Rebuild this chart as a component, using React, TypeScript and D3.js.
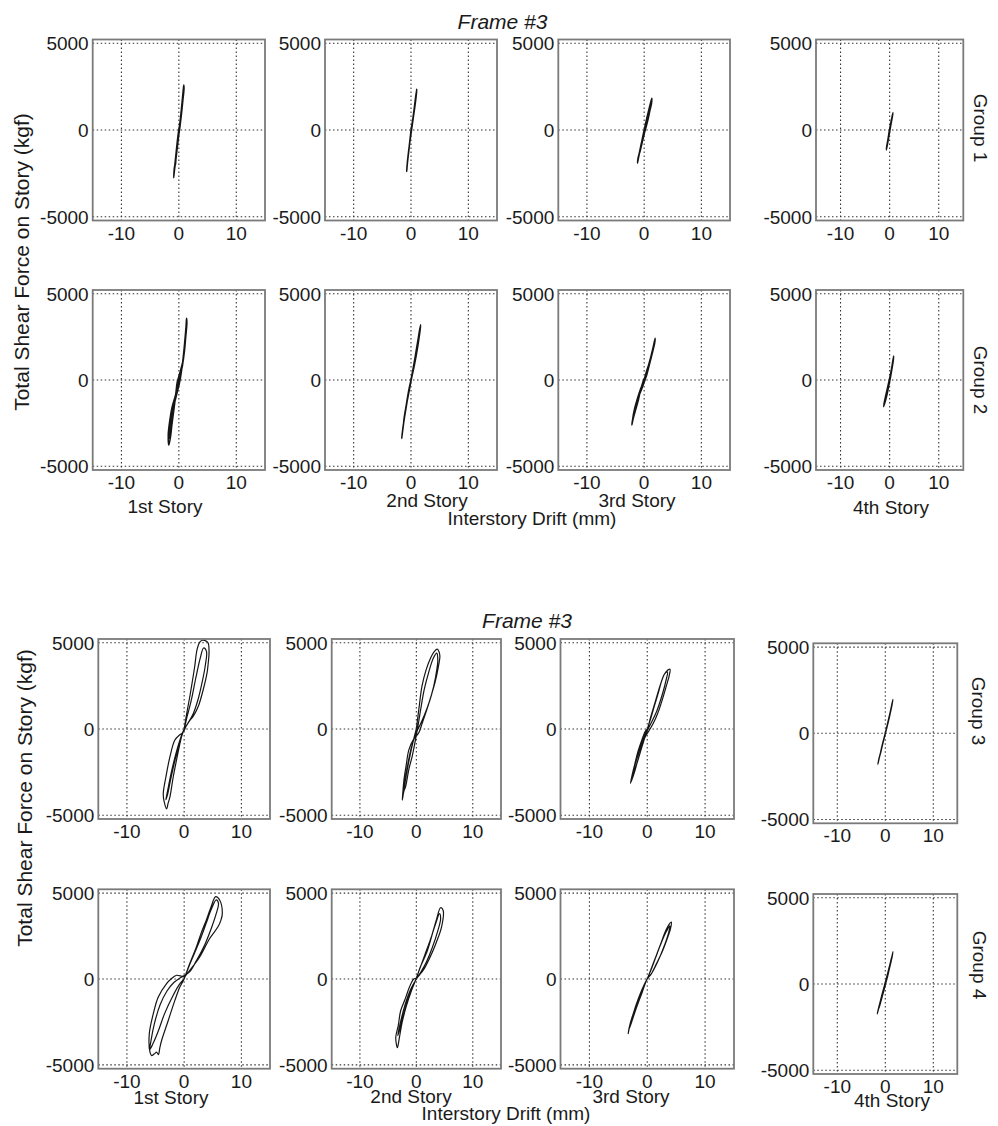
import React from "react";
import * as d3 from "d3";

// ---------- data ----------
const xTicks = [-10, 0, 10];
const yTicks = [-5000, 0, 5000];
const xDomain = [-15, 15];
const yDomain = [-5220, 5220];
const titleText = "Frame #3";
const yLabelText = "Total Shear Force on Story (kgf)";
const xLabelText = "Interstory Drift (mm)";
const storyLabels = ["1st Story", "2nd Story", "3rd Story", "4th Story"];
const groupLabels = ["Group 1", "Group 2", "Group 3", "Group 4"];

type Pt = [number, number];

const g1s1: Pt[] = [[0,0],[0.3,700],[0.55,1500],[0.75,2200],[0.85,2600],[0.9,2400],[0.7,1700],[0.45,900],[0.2,200],[-0.05,-400],[-0.3,-1100],[-0.55,-1800],[-0.75,-2300],[-0.9,-2750],[-0.85,-2450],[-0.75,-2100],[-0.6,-2000],[-0.45,-1300],[-0.25,-600],[0,0],[0.25,600],[0.5,1400],[0.7,2100],[0.8,2450],[0.75,2200],[0.55,1400],[0.3,600],[0.05,-100],[-0.2,-800],[-0.45,-1500],[-0.65,-2050],[-0.8,-2300],[-0.6,-1700],[-0.35,-900],[-0.1,-200],[0,0]];
const g1s2: Pt[] = [[0,0],[0.3,600],[0.6,1300],[0.85,1900],[1.0,2350],[0.95,2100],[0.7,1400],[0.4,700],[0.1,0],[-0.2,-700],[-0.45,-1400],[-0.65,-2000],[-0.75,-2400],[-0.7,-2100],[-0.5,-1500],[-0.25,-800],[0,-100],[0.3,600],[0.6,1350],[0.8,1900],[0.9,2150],[0.75,1700],[0.45,900],[0.15,150],[-0.15,-550],[-0.45,-1300],[-0.65,-1900],[-0.55,-1600],[-0.3,-900],[0,0]];
const g1s3: Pt[] = [[0,0],[0.4,600],[0.8,1150],[1.1,1550],[1.34,1830],[1.3,1550],[1.0,1100],[0.6,500],[0.2,0],[-0.2,-450],[-0.6,-1000],[-0.95,-1550],[-1.17,-1920],[-1.05,-1600],[-0.7,-1150],[-0.35,-600],[0,-50],[0.4,550],[0.8,1050],[1.15,1500],[1.25,1650],[1.0,1200],[0.55,550],[0.15,-50],[-0.25,-600],[-0.65,-1150],[-0.95,-1500],[-0.8,-1250],[-0.45,-700],[0,0]];
const g1s4: Pt[] = [[0,0],[0.2,350],[0.45,700],[0.67,1000],[0.6,850],[0.35,450],[0.1,50],[-0.15,-350],[-0.4,-750],[-0.67,-1150],[-0.6,-950],[-0.35,-550],[-0.1,-100],[0.15,300],[0.4,650],[0.55,850],[0.4,550],[0.1,100],[-0.2,-400],[-0.45,-800],[-0.55,-950],[-0.3,-450],[0,0]];

const g2s1: Pt[] = [[0,0],[0.3,500],[0.6,770],[0.8,1400],[1.05,2300],[1.25,3100],[1.34,3580],[1.4,3300],[1.2,2500],[0.95,1600],[0.6,800],[0.2,200],[-0.2,-300],[-0.6,-900],[-1.2,-1600],[-1.6,-2400],[-1.85,-3200],[-1.74,-3780],[-1.45,-3300],[-1.15,-2400],[-0.85,-1500],[-0.5,-700],[-0.3,-150],[0,200],[0.4,700],[0.7,1100],[1.0,2000],[1.2,2800],[1.3,3300],[1.15,2700],[0.85,1600],[0.5,600],[0.1,-200],[-0.5,-1000],[-1.1,-1800],[-1.5,-2700],[-1.7,-3400],[-1.4,-3000],[-1.05,-2200],[-0.7,-1300],[-0.35,-500],[0,0]];
const g2s2: Pt[] = [[0,0],[0.4,700],[0.8,1500],[1.2,2300],[1.5,2900],[1.69,3200],[1.6,2900],[1.3,2200],[0.9,1400],[0.5,700],[0.1,100],[-0.3,-600],[-0.7,-1300],[-1.1,-2100],[-1.4,-2800],[-1.62,-3390],[-1.5,-3000],[-1.25,-2400],[-0.9,-1700],[-0.5,-900],[-0.1,-150],[0.3,550],[0.7,1300],[1.1,2100],[1.4,2700],[1.55,3000],[1.35,2500],[1.0,1800],[0.6,1000],[0.2,300],[-0.2,-400],[-0.6,-1100],[-1.0,-1900],[-1.3,-2500],[-1.2,-2200],[-0.8,-1400],[-0.4,-600],[0,0]];
const g2s3: Pt[] = [[0,0],[0.4,500],[0.8,900],[1.2,1400],[1.6,1950],[1.92,2420],[1.85,2150],[1.5,1650],[1.0,1000],[0.5,350],[0.1,-50],[-0.4,-500],[-1.0,-1000],[-1.5,-1500],[-1.95,-2150],[-2.15,-2615],[-1.95,-2300],[-1.5,-1750],[-1.0,-1150],[-0.6,-550],[-0.2,-100],[0.3,300],[0.8,800],[1.3,1450],[1.7,2000],[1.8,2150],[1.5,1750],[1.0,1150],[0.5,550],[0,0],[-0.6,-500],[-1.2,-1100],[-1.7,-1700],[-2.0,-2250],[-1.7,-1900],[-1.2,-1200],[-0.6,-500],[0,0]];
const g2s4: Pt[] = [[0,0],[0.25,400],[0.5,850],[0.81,1395],[0.75,1150],[0.5,700],[0.2,200],[-0.15,-300],[-0.5,-800],[-0.9,-1250],[-1.22,-1550],[-1.1,-1300],[-0.8,-900],[-0.4,-400],[0,100],[0.35,600],[0.65,1100],[0.7,1200],[0.45,750],[0.1,150],[-0.3,-500],[-0.7,-1000],[-1.0,-1350],[-0.7,-850],[-0.3,-300],[0,0]];

const g3s1: Pt[] = [[0,0],[0.5,1000],[1.0,1900],[1.5,2900],[1.85,3640],[2.26,4613],[2.73,5042],[3.2,5150],[3.6,5139],[4.17,5003],[4.35,4419],[4.2,3800],[4.0,3250],[3.33,2278],[2.46,1304],[1.6,750],[1.0,500],[0.4,200],[-0.2,-200],[-0.8,-350],[-1.62,-642],[-2.49,-1616],[-3.19,-2784],[-3.65,-3757],[-3.5,-4200],[-3.07,-4633],[-2.8,-4300],[-2.49,-3952],[-1.91,-2784],[-1.22,-1616],[-0.46,-448],[0,0],[0.5,700],[1.2,1600],[2.0,2900],[2.8,4100],[3.4,4700],[3.9,4500],[3.7,3700],[3.2,2800],[2.5,1800],[1.6,900],[0.6,300],[0,0],[-0.7,-600],[-1.5,-1500],[-2.3,-2600],[-2.9,-3600],[-3.2,-4100],[-2.9,-3800],[-2.4,-3000],[-1.6,-1800],[-0.8,-800],[0,0]];
const g3s2: Pt[] = [[0,0],[0.5,1300],[1.0,2488],[1.7,3400],[2.43,4047],[3.2,4500],[3.71,4631],[4.0,4500],[4.17,4240],[3.9,3600],[3.3,2686],[2.6,1900],[1.86,1127],[1.0,300],[0.41,-234],[-0.5,-600],[-1.33,-1209],[-1.8,-2100],[-2.2,-2961],[-2.4,-3700],[-2.49,-4129],[-2.2,-3600],[-1.91,-3350],[-1.3,-2300],[-0.75,-1600],[-0.2,-700],[0.2,0],[0.8,1200],[1.4,2300],[2.2,3300],[3.0,4100],[3.6,4400],[3.8,4000],[3.4,3000],[2.7,2000],[1.9,1200],[0.9,400],[0,-200],[-0.9,-1100],[-1.6,-2200],[-2.1,-3200],[-2.3,-3700],[-2.0,-3100],[-1.4,-2000],[-0.7,-900],[0,0]];
const g3s3: Pt[] = [[0,0],[0.5,500],[1.2,1300],[2.0,2200],[2.6,2900],[3.2,3300],[3.93,3463],[3.8,3100],[3.3,2500],[2.6,1700],[1.8,900],[1.0,300],[0.3,-100],[-0.4,-500],[-1.0,-1100],[-1.7,-1900],[-2.3,-2600],[-2.9,-3154],[-2.7,-2800],[-2.2,-2100],[-1.6,-1300],[-0.9,-600],[-0.3,-100],[0,0],[0.6,700],[1.4,1600],[2.3,2600],[3.0,3200],[3.5,3300],[3.3,2900],[2.6,2000],[1.6,1000],[0.6,300],[0,-100],[-0.8,-900],[-1.6,-1800],[-2.3,-2500],[-2.6,-2800],[-2.3,-2300],[-1.5,-1400],[-0.7,-600],[0,0]];
const g3s4: Pt[] = [[0,0],[0.4,500],[0.9,1100],[1.3,1600],[1.58,1972],[1.45,1700],[1.0,1100],[0.5,500],[0,-50],[-0.5,-600],[-1.0,-1150],[-1.3,-1500],[-1.54,-1798],[-1.4,-1550],[-0.9,-1000],[-0.4,-400],[0.1,150],[0.6,750],[1.1,1350],[1.4,1750],[1.2,1450],[0.7,800],[0.2,200],[-0.3,-350],[-0.8,-950],[-1.2,-1400],[-1.0,-1100],[-0.5,-500],[0,0]];

const g4s1: Pt[] = [[0,0],[0.98,899],[2.14,1869],[3.0,2700],[3.87,3428],[4.6,4100],[5.51,4789],[6.2,4596],[6.67,3819],[6.4,3400],[5.91,3037],[4.46,2359],[2.72,1285],[0.98,508],[0,150],[-1.33,216],[-2.3,0],[-3.07,-270],[-4.52,-1051],[-5.39,-2021],[-6.09,-3190],[-5.97,-4261],[-5.68,-4455],[-5.2,-4350],[-4.81,-4261],[-4.5,-4400],[-4.23,-3971],[-3.94,-3580],[-2.78,-2412],[-1.62,-1245],[-0.75,-467],[0,0],[0.8,700],[1.8,1500],[2.8,2300],[3.8,3200],[4.8,4100],[5.6,4600],[6.0,4400],[5.6,3800],[4.8,3000],[3.6,2000],[2.2,1100],[0.9,400],[-0.5,100],[-1.8,-200],[-3.0,-700],[-4.2,-1500],[-5.2,-2600],[-5.8,-3600],[-6.0,-4100],[-5.5,-3800],[-4.6,-3100],[-3.4,-2000],[-2.0,-1000],[-0.8,-300],[0,0]];
const g4s2: Pt[] = [[0,0],[0.7,700],[1.86,1563],[3.0,2820],[3.6,3500],[4.29,4146],[4.75,3990],[4.46,3015],[3.5,2100],[2.43,1263],[1.4,600],[0.7,292],[0,50],[-0.46,0],[-1.2,-450],[-1.91,-1100],[-2.78,-1849],[-3.2,-2700],[-3.65,-3408],[-3.36,-3994],[-3.0,-3400],[-2.5,-2500],[-1.8,-1600],[-1.0,-800],[-0.3,-200],[0.5,500],[1.5,1400],[2.5,2300],[3.4,3200],[4.1,3800],[4.3,3500],[3.8,2800],[2.8,1800],[1.8,1000],[0.8,400],[0,0],[-1.0,-600],[-2.0,-1500],[-2.8,-2500],[-3.3,-3300],[-3.0,-3000],[-2.2,-2000],[-1.3,-1000],[-0.4,-250],[0,0]];
const g4s3: Pt[] = [[0,0],[0.8,700],[1.6,1400],[2.5,2200],[3.3,2900],[4.17,3307],[4.0,2900],[3.4,2300],[2.6,1600],[1.6,900],[0.7,300],[0,0],[-0.8,-600],[-1.6,-1300],[-2.4,-2100],[-3.0,-2700],[-3.3,-3177],[-3.1,-2800],[-2.6,-2200],[-1.8,-1500],[-1.0,-800],[-0.3,-200],[0.5,400],[1.4,1200],[2.3,2000],[3.2,2700],[3.9,3100],[3.7,2700],[2.8,1800],[1.8,1000],[0.8,350],[0,0],[-0.9,-800],[-1.9,-1700],[-2.7,-2500],[-3.1,-2900],[-2.5,-2100],[-1.5,-1100],[-0.5,-300],[0,0]];
const g4s4: Pt[] = [[0,0],[0.4,450],[0.9,1050],[1.3,1500],[1.6,1873],[1.45,1600],[1.0,1050],[0.5,450],[0,-50],[-0.5,-550],[-1.0,-1050],[-1.4,-1450],[-1.68,-1740],[-1.5,-1500],[-1.0,-950],[-0.5,-400],[0,100],[0.5,650],[1.0,1200],[1.35,1600],[1.2,1350],[0.7,750],[0.2,150],[-0.3,-400],[-0.8,-900],[-1.3,-1400],[-1.1,-1150],[-0.6,-550],[0,0]];

const loopsByGroup: Pt[][][] = [
  [g1s1, g1s2, g1s3, g1s4],
  [g2s1, g2s2, g2s3, g2s4],
  [g3s1, g3s2, g3s3, g3s4],
  [g4s1, g4s2, g4s3, g4s4],
];

// ---------- layout (pixels) ----------
type Box = { l: number; r: number; t: number; b: number };
const colsTop = [[92.7, 265], [325, 497], [558.3, 730], [816, 963.3]];
const colsBot = [[98.3, 270], [331.7, 501], [560.5, 734], [813.3, 957.3]];
const rowsY = [
  [[39.5, 220.5], [39.5, 220.5], [39.5, 220.5], [39.5, 220.5]],
  [[290, 470], [290, 470], [290, 470], [290, 470]],
  [[639, 819], [639, 819], [639, 819], [643.3, 823.3]],
  [[889.3, 1068.7], [889.3, 1068.7], [889.3, 1068.7], [894, 1074]],
];
function boxFor(g: number, s: number): Box {
  const cols = g < 2 ? colsTop : colsBot;
  return { l: cols[s][0], r: cols[s][1], t: rowsY[g][s][0], b: rowsY[g][s][1] };
}
const storyPos: Record<number, number[][]> = {
  1: [[165, 513], [427, 507], [637, 507], [891, 514]],
  3: [[171, 1104], [411, 1103], [631, 1103], [892, 1106.5]],
};
const groupPos = [[974, 128], [974, 380], [972, 711], [973, 965]];

const FONT = "'Liberation Sans', Arial, Helvetica, sans-serif";
const TXT = "#1a1a1a";

function Panel({ g, s }: { g: number; s: number }) {
  const b = boxFor(g, s);
  const x = d3.scaleLinear().domain(xDomain).range([b.l, b.r]);
  const y = d3.scaleLinear().domain(yDomain).range([b.b, b.t]);
  const line = d3
    .line<Pt>()
    .x((d) => x(d[0]))
    .y((d) => y(d[1]))
    .curve(d3.curveCatmullRom.alpha(0.5));
  const data = loopsByGroup[g][s];
  const sw = g < 2 ? 1.5 : 1.2;
  return (
    <g>
      {xTicks.map((t) => (
        <line key={"gx" + t} x1={x(t)} x2={x(t)} y1={b.t} y2={b.b} stroke="#333" strokeWidth={1.1} strokeDasharray="1.5 2.5" />
      ))}
      {yTicks.map((t) => (
        <line key={"gy" + t} x1={b.l} x2={b.r} y1={y(t)} y2={y(t)} stroke="#333" strokeWidth={1.1} strokeDasharray="1.5 2.5" />
      ))}
      <path d={line(data) || ""} fill="none" stroke="#151515" strokeWidth={sw} strokeLinejoin="round" />
      <rect x={b.l} y={b.t} width={b.r - b.l} height={b.b - b.t} fill="none" stroke="#7a7a7a" strokeWidth={1.8} />
      {yTicks.map((t) => (
        <text key={"ty" + t} x={b.l - 4} y={y(t)} dy="0.36em" textAnchor="end" fontSize={19} fontFamily={FONT} fill={TXT}>
          {String(t)}
        </text>
      ))}
      {xTicks.map((t) => (
        <text key={"tx" + t} x={x(t)} y={b.b + 19} textAnchor="middle" fontSize={19} fontFamily={FONT} fill={TXT}>
          {String(t)}
        </text>
      ))}
    </g>
  );
}

export default function App() {
  const W = 998, H = 1126;
  return (
    <svg width={W} height={H} style={{ position: "absolute", left: 0, top: 0, display: "block", background: "#fff" }}>
      <rect x={0} y={0} width={W} height={H} fill="#fff" />
      {[0, 1, 2, 3].map((g) => [0, 1, 2, 3].map((s) => <Panel key={g + "-" + s} g={g} s={s} />))}
      <text x={502.5} y={29.3} textAnchor="middle" fontSize={21} fontStyle="italic" fontFamily={FONT} fill={TXT}>{titleText}</text>
      <text x={527} y={628.3} textAnchor="middle" fontSize={21} fontStyle="italic" fontFamily={FONT} fill={TXT}>{titleText}</text>
      <text transform="translate(29,262) rotate(-90)" textAnchor="middle" fontSize={21} fontFamily={FONT} fill={TXT}>{yLabelText}</text>
      <text transform="translate(32,798) rotate(-90)" textAnchor="middle" fontSize={21} fontFamily={FONT} fill={TXT}>{yLabelText}</text>
      <text x={532} y={525} textAnchor="middle" fontSize={19} fontFamily={FONT} fill={TXT}>{xLabelText}</text>
      <text x={506} y={1120} textAnchor="middle" fontSize={19} fontFamily={FONT} fill={TXT}>{xLabelText}</text>
      {[1, 3].map((g) =>
        storyLabels.map((lab, s) => (
          <text key={"st" + g + s} x={storyPos[g][s][0]} y={storyPos[g][s][1]} textAnchor="middle" fontSize={19} fontFamily={FONT} fill={TXT}>{lab}</text>
        ))
      )}
      {groupLabels.map((lab, g) => (
        <text key={"gr" + g} transform={`translate(${groupPos[g][0]},${groupPos[g][1]}) rotate(90)`} textAnchor="middle" fontSize={19} fontFamily={FONT} fill={TXT}>{lab}</text>
      ))}
    </svg>
  );
}
